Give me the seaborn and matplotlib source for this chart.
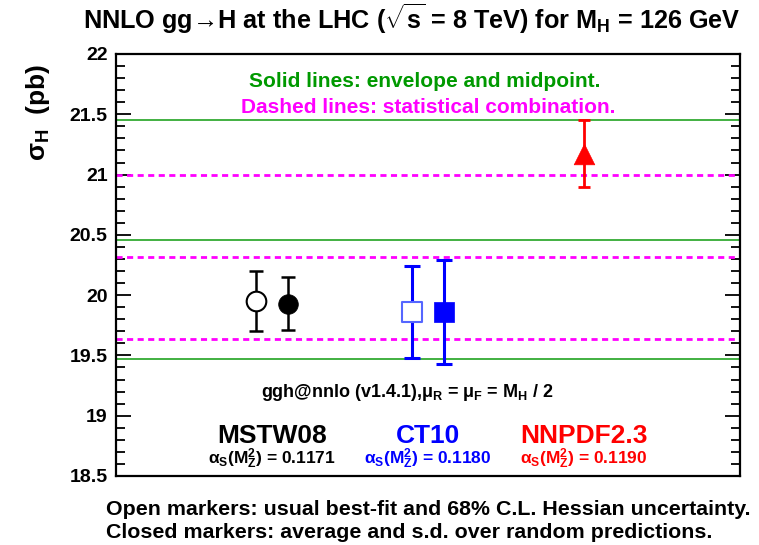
import numpy as np
import pandas as pd
import matplotlib
matplotlib.use("Agg")
import matplotlib.pyplot as plt
from matplotlib.ticker import MultipleLocator
import seaborn as sns

# ---------------- data ----------------
pdf_sets = ["MSTW08", "MSTW08", "CT10", "CT10", "NNPDF2.3"]
marker_kind = ["open", "closed", "open", "closed", "closed"]
x_pos = [0.225, 0.275, 0.475, 0.525, 0.75]
sigma = [19.95, 19.93, 19.86, 19.86, 21.17]
sigma_lo = [19.70, 19.71, 19.48, 19.43, 20.90]
sigma_hi = [20.20, 20.15, 20.245, 20.29, 21.45]

envelope_lines = [19.47, 20.46, 21.45]
statcomb_lines = [19.64, 20.32, 21.00]

group_names = ["MSTW08", "CT10", "NNPDF2.3"]
group_x = [0.25, 0.5, 0.75]
alphas_vals = ["0.1171", "0.1180", "0.1190"]
group_colors = ["black", "#0000ff", "#ff0000"]

y_ticks = [18.5, 19, 19.5, 20, 20.5, 21, 21.5, 22]
y_tick_labels = ["18.5", "19", "19.5", "20", "20.5", "21", "21.5", "22"]

df = pd.DataFrame({"pdf": pdf_sets, "kind": marker_kind, "x": x_pos,
                   "sigma": sigma, "lo": sigma_lo, "hi": sigma_hi})

# ---------------- style ----------------
sns.set_style("ticks")
plt.rcParams["font.family"] = ["Liberation Sans", "DejaVu Sans"]
plt.rcParams["font.weight"] = "bold"
plt.rcParams["text.color"] = "black"
plt.rcParams["ytick.color"] = "black"
plt.rcParams["ytick.labelcolor"] = "black"
plt.rcParams["mathtext.fontset"] = "custom"
plt.rcParams["mathtext.rm"] = "Liberation Sans:bold"
plt.rcParams["mathtext.it"] = "Liberation Sans:bold"
plt.rcParams["mathtext.bf"] = "Liberation Sans:bold"
plt.rcParams["mathtext.sf"] = "Liberation Sans:bold"

W, H = 759, 545
fig = plt.figure(figsize=(W / 100, H / 100), dpi=100)
L, R, T, B = 116, 740, 54, 476
ax = fig.add_axes([L / W, 1 - B / H, (R - L) / W, (B - T) / H])

def fx(px):
    return px / W

def fy(py):
    return 1 - py / H

ax.set_xlim(0, 1)
ax.set_ylim(18.5, 22)

# horizontal reference lines
for v in envelope_lines:
    ax.axhline(v, color="#33aa33", lw=1.3, zorder=1)
for v in statcomb_lines:
    ax.axhline(v, color="#ff00ff", lw=2.0, ls=(0, (2.2, 1.6)), zorder=1)

color_map = {"MSTW08": "black", "CT10": "#0000ff", "NNPDF2.3": "#ff0000"}
marker_map = {"MSTW08": "o", "CT10": "s", "NNPDF2.3": "^"}
cap_map = {"MSTW08": 4.7, "CT10": 6.0, "NNPDF2.3": 4.3}
lw_map = {"MSTW08": 1.8, "CT10": 2.2, "NNPDF2.3": 2.0}
size_map = {"MSTW08": 200, "CT10": 190, "NNPDF2.3": 220}

for _, r in df.iterrows():
    c = color_map[r["pdf"]]
    ax.errorbar(r["x"], r["sigma"],
                yerr=[[r["sigma"] - r["lo"]], [r["hi"] - r["sigma"]]],
                fmt="none", ecolor=c, elinewidth=lw_map[r["pdf"]],
                capsize=cap_map[r["pdf"]], capthick=lw_map[r["pdf"]], zorder=3)
    sub = df[(df["x"] == r["x"])]
    if r["kind"] == "open":
        sns.scatterplot(data=sub, x="x", y="sigma", marker=marker_map[r["pdf"]],
                        s=size_map[r["pdf"]], color="white",
                        edgecolor=c if r["pdf"] != "CT10" else "#5566ff",
                        linewidth=1.5, ax=ax, zorder=5, legend=False)
    else:
        sns.scatterplot(data=sub, x="x", y="sigma", marker=marker_map[r["pdf"]],
                        s=size_map[r["pdf"]], color=c, edgecolor=c,
                        linewidth=0.5, ax=ax, zorder=5, legend=False)

ax.set_xlabel("")
ax.set_ylabel("")
ax.set_xticks([])
ax.set_yticks(y_ticks)
ax.set_yticklabels(y_tick_labels)
ax.yaxis.set_minor_locator(MultipleLocator(0.1))
ax.tick_params(axis="y", which="major", direction="in", length=11, width=1.3,
               left=True, right=True, labelsize=14, pad=6, colors="black")
ax.tick_params(axis="y", which="minor", direction="in", length=6.5, width=1.3,
               left=True, right=True, colors="black")
for lab in ax.get_yticklabels():
    lab.set_fontweight("bold")
for sp in ax.spines.values():
    sp.set_visible(True)
    sp.set_linewidth(1.6)
    sp.set_color("black")

# ---------------- texts ----------------
fig.text(fx(412), fy(29), r"NNLO gg→H at the LHC ($\sqrt{\rm s}$ = 8 TeV) for M$_{\rm H}$ = 126 GeV",
         ha="center", va="baseline", fontsize=18.2, fontweight="bold")

fig.text(fx(38), fy(64), r"$\sigma_{\rm H}$  (pb)", rotation=90, ha="center", va="top",
         fontsize=19, fontweight="bold")

fig.text(fx(425), fy(87), "Solid lines: envelope and midpoint.", color="#009900",
         ha="center", va="baseline", fontsize=15, fontweight="bold")
fig.text(fx(428), fy(113), "Dashed lines: statistical combination.", color="#ff00ff",
         ha="center", va="baseline", fontsize=15, fontweight="bold")

fig.text(fx(407), fy(397), r"ggh@nnlo (v1.4.1),$\mu_{\rm R}$ = $\mu_{\rm F}$ = M$_{\rm H}$ / 2",
         ha="center", va="baseline", fontsize=13, fontweight="bold")

for name, gx, av, gc in zip(group_names, group_x, alphas_vals, group_colors):
    px = L + gx * (R - L)
    fig.text(fx(px), fy(443), name, color=gc, ha="center", va="baseline",
             fontsize=19, fontweight="bold")
    fig.text(fx(px), fy(464), r"$\alpha_{\rm S}$(M$_{\rm Z}^{\rm 2}$) = " + av, color=gc,
             ha="center", va="baseline", fontsize=12.5, fontweight="bold")

fig.text(fx(106), fy(515), "Open markers: usual best-fit and 68% C.L. Hessian uncertainty.",
         ha="left", va="baseline", fontsize=15.4, fontweight="bold")
fig.text(fx(106), fy(538), "Closed markers: average and s.d. over random predictions.",
         ha="left", va="baseline", fontsize=15.4, fontweight="bold")

fig.savefig("out.png", dpi=100)
